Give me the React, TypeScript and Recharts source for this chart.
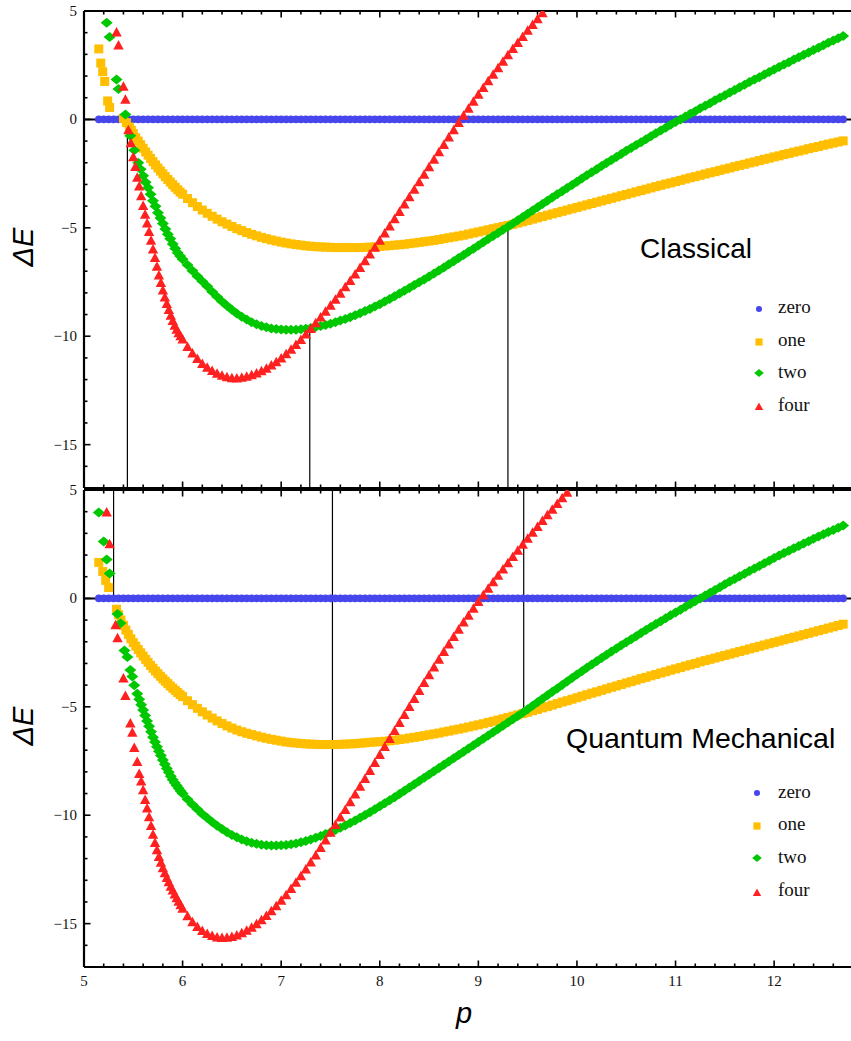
import React from 'react';
import { ScatterChart, Scatter, XAxis, YAxis, ReferenceLine } from 'recharts';

// ---------- data ----------
const SERIES_NAMES = ['zero', 'one', 'two', 'four'];
const COLORS = ['#4646ec', '#ffbf00', '#00c800', '#ff2020'];
const X_DOMAIN = [5, 12.8];
const Y_DOMAIN = [-17, 5];
const X_TICKS = [5, 5.2, 5.4, 5.6, 5.8, 6, 6.2, 6.4, 6.6, 6.8, 7, 7.2, 7.4, 7.6, 7.8, 8, 8.2, 8.4, 8.6, 8.8, 9, 9.2, 9.4, 9.6, 9.8, 10, 10.2, 10.4, 10.6, 10.8, 11, 11.2, 11.4, 11.6, 11.8, 12, 12.2, 12.4, 12.6, 12.8];
const X_LABELS = [5, 6, 7, 8, 9, 10, 11, 12];
const Y_TICKS = [-17, -16, -15, -14, -13, -12, -11, -10, -9, -8, -7, -6, -5, -4, -3, -2, -1, 0, 1, 2, 3, 4, 5];
const Y_LABELS = [-15, -10, -5, 0, 5];

const P_MAIN = [
  6.00, 6.05, 6.10, 6.15, 6.20, 6.25, 6.30, 6.35, 6.40, 6.45,
  6.50, 6.55, 6.60, 6.65, 6.70, 6.75, 6.80, 6.85, 6.90, 6.95,
  7.00, 7.05, 7.10, 7.15, 7.20, 7.25, 7.30, 7.35, 7.40, 7.45,
  7.50, 7.55, 7.60, 7.65, 7.70, 7.75, 7.80, 7.85, 7.90, 7.95,
  8.00, 8.05, 8.10, 8.15, 8.20, 8.25, 8.30, 8.35, 8.40, 8.45,
  8.50, 8.55, 8.60, 8.65, 8.70, 8.75, 8.80, 8.85, 8.90, 8.95,
  9.00, 9.05, 9.10, 9.15, 9.20, 9.25, 9.30, 9.35, 9.40, 9.45,
  9.50, 9.55, 9.60, 9.65, 9.70, 9.75, 9.80, 9.85, 9.90, 9.95,
  10.00, 10.05, 10.10, 10.15, 10.20, 10.25, 10.30, 10.35, 10.40, 10.45,
  10.50, 10.55, 10.60, 10.65, 10.70, 10.75, 10.80, 10.85, 10.90, 10.95,
  11.00, 11.05, 11.10, 11.15, 11.20, 11.25, 11.30, 11.35, 11.40, 11.45,
  11.50, 11.55, 11.60, 11.65, 11.70, 11.75, 11.80, 11.85, 11.90, 11.95,
  12.00, 12.05, 12.10, 12.15, 12.20, 12.25, 12.30, 12.35, 12.40, 12.45,
  12.50, 12.55, 12.60, 12.65, 12.70,
];
const P_ZERO_HEAD = [5.15, 5.20, 5.25, 5.30, 5.35, 5.40, 5.45, 5.50, 5.55, 5.60, 5.65, 5.70, 5.75, 5.80, 5.85, 5.90, 5.95];
const ZERO_E = [
  0, 0, 0, 0, 0, 0, 0, 0, 0, 0, 0, 0, 0, 0, 0, 0, 0, 0, 0, 0,
  0, 0, 0, 0, 0, 0, 0, 0, 0, 0, 0, 0, 0, 0, 0, 0, 0, 0, 0, 0,
  0, 0, 0, 0, 0, 0, 0, 0, 0, 0, 0, 0, 0, 0, 0, 0, 0, 0, 0, 0,
  0, 0, 0, 0, 0, 0, 0, 0, 0, 0, 0, 0, 0, 0, 0, 0, 0, 0, 0, 0,
  0, 0, 0, 0, 0, 0, 0, 0, 0, 0, 0, 0, 0, 0, 0, 0, 0, 0, 0, 0,
  0, 0, 0, 0, 0, 0, 0, 0, 0, 0, 0, 0, 0, 0, 0, 0, 0, 0, 0, 0,
  0, 0, 0, 0, 0, 0, 0, 0, 0, 0, 0, 0, 0, 0, 0, 0, 0, 0, 0, 0,
  0, 0, 0, 0, 0, 0, 0, 0, 0, 0, 0, 0,
];

// Classical panel
const TOP_ONE_HEAD_P = [5.15, 5.17, 5.19, 5.21, 5.24, 5.26, 5.40, 5.43, 5.46, 5.48, 5.50, 5.525, 5.55, 5.575, 5.60, 5.625, 5.65, 5.675, 5.70, 5.725, 5.75, 5.775, 5.80, 5.825, 5.85, 5.875, 5.90, 5.925, 5.95, 5.975];
const TOP_ONE_HEAD_E = [3.25, 2.6, 2.2, 1.75, 0.85, 0.55, 0.05, -0.15, -0.35, -0.5, -0.65, -0.85, -1.0, -1.17, -1.33, -1.5, -1.65, -1.8, -1.95, -2.1, -2.24, -2.38, -2.51, -2.64, -2.77, -2.89, -3.01, -3.13, -3.24, -3.35];
const TOP_ONE_E = [
  -3.45, -3.65, -3.84, -4.02, -4.18, -4.33, -4.47, -4.60, -4.72, -4.83,
  -4.94, -5.04, -5.13, -5.22, -5.30, -5.37, -5.44, -5.50, -5.56, -5.61,
  -5.66, -5.70, -5.74, -5.77, -5.80, -5.83, -5.85, -5.87, -5.88, -5.89,
  -5.90, -5.91, -5.91, -5.91, -5.91, -5.91, -5.91, -5.90, -5.89, -5.88,
  -5.86, -5.84, -5.82, -5.80, -5.78, -5.76, -5.73, -5.70, -5.67, -5.64,
  -5.61, -5.58, -5.54, -5.50, -5.46, -5.42, -5.38, -5.34, -5.29, -5.24,
  -5.19, -5.14, -5.09, -5.04, -4.99, -4.94, -4.89, -4.84, -4.78, -4.72,
  -4.66, -4.60, -4.54, -4.48, -4.42, -4.36, -4.30, -4.24, -4.18, -4.12,
  -4.06, -4.00, -3.94, -3.88, -3.82, -3.76, -3.70, -3.64, -3.58, -3.52,
  -3.46, -3.40, -3.34, -3.28, -3.22, -3.16, -3.10, -3.04, -2.98, -2.93,
  -2.87, -2.81, -2.75, -2.69, -2.64, -2.58, -2.52, -2.46, -2.41, -2.35,
  -2.29, -2.24, -2.18, -2.12, -2.07, -2.01, -1.96, -1.90, -1.84, -1.79,
  -1.73, -1.68, -1.62, -1.57, -1.51, -1.46, -1.41, -1.35, -1.30, -1.25,
  -1.19, -1.14, -1.09, -1.04, -0.99,
];
const TOP_TWO_HEAD_P = [5.23, 5.26, 5.33, 5.35, 5.42, 5.47, 5.51, 5.55, 5.575, 5.60, 5.625, 5.65, 5.675, 5.70, 5.725, 5.75, 5.775, 5.80, 5.825, 5.85, 5.875, 5.90, 5.925, 5.95, 5.975];
const TOP_TWO_HEAD_E = [4.46, 3.8, 1.84, 1.4, 0.23, -0.75, -1.42, -2.0, -2.3, -2.6, -2.9, -3.15, -3.45, -3.75, -4.0, -4.3, -4.55, -4.8, -5.05, -5.3, -5.5, -5.75, -5.95, -6.15, -6.3];
const TOP_TWO_E = [
  -6.45, -6.72, -6.98, -7.23, -7.47, -7.70, -7.95, -8.18, -8.40, -8.60,
  -8.78, -8.95, -9.10, -9.23, -9.35, -9.45, -9.53, -9.59, -9.64, -9.67,
  -9.69, -9.70, -9.70, -9.70, -9.68, -9.65, -9.62, -9.58, -9.53, -9.48,
  -9.42, -9.35, -9.28, -9.20, -9.12, -9.03, -8.94, -8.84, -8.74, -8.63,
  -8.52, -8.40, -8.28, -8.16, -8.03, -7.90, -7.77, -7.64, -7.51, -7.38,
  -7.25, -7.11, -6.97, -6.83, -6.68, -6.54, -6.39, -6.25, -6.10, -5.96,
  -5.81, -5.67, -5.52, -5.38, -5.24, -5.09, -4.95, -4.80, -4.65, -4.50,
  -4.35, -4.20, -4.05, -3.90, -3.75, -3.60, -3.45, -3.31, -3.16, -3.02,
  -2.87, -2.73, -2.58, -2.44, -2.30, -2.15, -2.01, -1.87, -1.73, -1.59,
  -1.45, -1.32, -1.18, -1.05, -0.91, -0.78, -0.64, -0.51, -0.38, -0.25,
  -0.12, 0.00, 0.13, 0.26, 0.38, 0.51, 0.63, 0.75, 0.88, 1.00,
  1.12, 1.24, 1.36, 1.48, 1.60, 1.72, 1.84, 1.95, 2.07, 2.19,
  2.30, 2.42, 2.53, 2.64, 2.76, 2.87, 2.98, 3.09, 3.20, 3.31,
  3.42, 3.53, 3.64, 3.74, 3.85,
];
const TOP_FOUR_HEAD_P = [5.33, 5.35, 5.40, 5.42, 5.45, 5.475, 5.50, 5.52, 5.54, 5.56, 5.58, 5.60, 5.62, 5.64, 5.66, 5.68, 5.70, 5.72, 5.74, 5.76, 5.78, 5.80, 5.82, 5.84, 5.86, 5.88, 5.90, 5.92, 5.94, 5.96, 5.98];
const TOP_FOUR_HEAD_E = [4.0, 3.4, 1.5, 0.9, -0.5, -1.1, -1.75, -2.2, -2.7, -3.1, -3.55, -4.0, -4.4, -4.8, -5.2, -5.6, -6.0, -6.4, -6.8, -7.2, -7.55, -7.9, -8.22, -8.52, -8.8, -9.06, -9.3, -9.52, -9.71, -9.87, -10.01];
const TOP_FOUR_E = [
  -10.15, -10.50, -10.80, -11.06, -11.28, -11.46, -11.61, -11.73, -11.83, -11.90,
  -11.94, -11.95, -11.92, -11.87, -11.80, -11.72, -11.62, -11.50, -11.36, -11.20,
  -11.03, -10.84, -10.63, -10.41, -10.18, -9.93, -9.67, -9.41, -9.14, -8.87,
  -8.60, -8.32, -8.04, -7.75, -7.46, -7.16, -6.86, -6.55, -6.24, -5.92,
  -5.60, -5.27, -4.94, -4.61, -4.27, -3.93, -3.59, -3.25, -2.90, -2.56,
  -2.21, -1.87, -1.52, -1.18, -0.84, -0.50, -0.17, 0.16, 0.49, 0.81,
  1.13, 1.44, 1.75, 2.06, 2.36, 2.66, 2.95, 3.24, 3.52, 3.80,
  4.08, 4.35, 4.62, 4.89,
];
const TOP_MARK_P = [5.44, 7.29, 9.3];
const TOP_MARK_E = [0, -9.64, -4.93];

// Quantum mechanical panel
const BOT_ONE_HEAD_P = [5.15, 5.19, 5.22, 5.25, 5.33, 5.35, 5.375, 5.40, 5.425, 5.45, 5.475, 5.50, 5.525, 5.55, 5.575, 5.60, 5.625, 5.65, 5.675, 5.70, 5.725, 5.75, 5.775, 5.80, 5.825, 5.85, 5.875, 5.90, 5.925, 5.95, 5.975];
const BOT_ONE_HEAD_E = [1.66, 1.24, 0.83, 0.5, -0.5, -0.75, -1.0, -1.24, -1.46, -1.66, -1.86, -2.04, -2.2, -2.36, -2.51, -2.66, -2.81, -2.95, -3.09, -3.22, -3.35, -3.47, -3.59, -3.71, -3.82, -3.93, -4.04, -4.14, -4.24, -4.34, -4.44];
const BOT_ONE_E = [
  -4.53, -4.72, -4.90, -5.07, -5.23, -5.38, -5.52, -5.65, -5.77, -5.88,
  -5.98, -6.07, -6.15, -6.22, -6.28, -6.34, -6.40, -6.45, -6.50, -6.54,
  -6.58, -6.62, -6.65, -6.67, -6.69, -6.71, -6.72, -6.73, -6.74, -6.74,
  -6.74, -6.74, -6.73, -6.72, -6.71, -6.70, -6.68, -6.66, -6.64, -6.62,
  -6.61, -6.59, -6.57, -6.54, -6.51, -6.48, -6.44, -6.41, -6.37, -6.33,
  -6.29, -6.25, -6.21, -6.16, -6.12, -6.07, -6.03, -5.98, -5.93, -5.88,
  -5.83, -5.78, -5.72, -5.67, -5.61, -5.55, -5.49, -5.43, -5.37, -5.31,
  -5.25, -5.18, -5.12, -5.05, -4.99, -4.92, -4.85, -4.78, -4.72, -4.65,
  -4.58, -4.51, -4.44, -4.37, -4.31, -4.24, -4.17, -4.10, -4.04, -3.97,
  -3.90, -3.84, -3.77, -3.70, -3.64, -3.57, -3.51, -3.44, -3.38, -3.31,
  -3.25, -3.19, -3.12, -3.06, -3.00, -2.93, -2.87, -2.81, -2.75, -2.69,
  -2.63, -2.57, -2.51, -2.45, -2.39, -2.33, -2.27, -2.21, -2.15, -2.09,
  -2.03, -1.97, -1.91, -1.85, -1.79, -1.73, -1.67, -1.61, -1.55, -1.49,
  -1.43, -1.37, -1.31, -1.25, -1.19,
];
const BOT_TWO_HEAD_P = [5.15, 5.20, 5.23, 5.26, 5.34, 5.37, 5.41, 5.44, 5.47, 5.49, 5.51, 5.54, 5.56, 5.58, 5.60, 5.62, 5.64, 5.66, 5.68, 5.70, 5.72, 5.74, 5.76, 5.78, 5.80, 5.82, 5.84, 5.86, 5.88, 5.90, 5.92, 5.94, 5.96, 5.98];
const BOT_TWO_HEAD_E = [3.96, 2.63, 1.8, 1.15, -0.72, -1.15, -2.4, -2.7, -3.3, -3.6, -4.0, -4.4, -4.65, -4.9, -5.15, -5.4, -5.65, -5.9, -6.15, -6.4, -6.62, -6.84, -7.05, -7.25, -7.45, -7.65, -7.84, -8.02, -8.2, -8.36, -8.5, -8.63, -8.76, -8.88];
const BOT_TWO_E = [
  -9.00, -9.26, -9.50, -9.73, -9.94, -10.13, -10.31, -10.48, -10.64, -10.78,
  -10.91, -11.02, -11.12, -11.20, -11.27, -11.32, -11.36, -11.39, -11.40, -11.40,
  -11.39, -11.37, -11.34, -11.30, -11.25, -11.19, -11.12, -11.04, -10.96, -10.87,
  -10.78, -10.68, -10.58, -10.47, -10.36, -10.24, -10.12, -9.99, -9.86, -9.73,
  -9.59, -9.45, -9.31, -9.17, -9.02, -8.87, -8.72, -8.57, -8.42, -8.27,
  -8.12, -7.97, -7.82, -7.67, -7.52, -7.37, -7.22, -7.07, -6.92, -6.77,
  -6.62, -6.47, -6.32, -6.17, -6.02, -5.87, -5.72, -5.57, -5.42, -5.27,
  -5.11, -4.95, -4.79, -4.63, -4.47, -4.31, -4.15, -3.99, -3.83, -3.67,
  -3.51, -3.36, -3.20, -3.05, -2.90, -2.75, -2.60, -2.45, -2.31, -2.16,
  -2.02, -1.88, -1.74, -1.60, -1.46, -1.32, -1.18, -1.05, -0.91, -0.78,
  -0.65, -0.52, -0.39, -0.26, -0.13, 0.00, 0.13, 0.26, 0.39, 0.52,
  0.65, 0.78, 0.90, 1.02, 1.14, 1.26, 1.38, 1.50, 1.62, 1.74,
  1.86, 1.98, 2.09, 2.20, 2.31, 2.42, 2.53, 2.64, 2.75, 2.86,
  2.96, 3.06, 3.16, 3.26, 3.36,
];
const BOT_FOUR_HEAD_P = [5.23, 5.26, 5.32, 5.34, 5.40, 5.42, 5.47, 5.49, 5.51, 5.54, 5.56, 5.58, 5.60, 5.62, 5.64, 5.66, 5.68, 5.70, 5.72, 5.74, 5.76, 5.78, 5.80, 5.82, 5.84, 5.86, 5.88, 5.90, 5.92, 5.94, 5.96, 5.98];
const BOT_FOUR_HEAD_E = [3.96, 2.49, -1.24, -1.84, -3.7, -4.5, -5.77, -6.2, -6.9, -7.55, -8.1, -8.45, -8.85, -9.3, -9.7, -10.1, -10.5, -10.9, -11.28, -11.62, -11.93, -12.2, -12.45, -12.68, -12.9, -13.1, -13.3, -13.48, -13.66, -13.83, -14.0, -14.16];
const BOT_FOUR_E = [
  -14.32, -14.66, -14.94, -15.16, -15.34, -15.48, -15.58, -15.64, -15.67, -15.66,
  -15.62, -15.55, -15.45, -15.33, -15.19, -15.03, -14.85, -14.65, -14.43, -14.20,
  -13.95, -13.69, -13.41, -13.12, -12.82, -12.51, -12.19, -11.86, -11.52, -11.17,
  -10.81, -10.46, -10.11, -9.76, -9.41, -9.05, -8.69, -8.33, -7.97, -7.60,
  -7.23, -6.86, -6.49, -6.12, -5.75, -5.38, -5.01, -4.64, -4.27, -3.91,
  -3.55, -3.19, -2.83, -2.48, -2.13, -1.79, -1.45, -1.12, -0.80, -0.48,
  -0.17, 0.14, 0.44, 0.74, 1.04, 1.33, 1.62, 1.91, 2.19, 2.47,
  2.75, 3.02, 3.29, 3.56, 3.83, 4.09, 4.35, 4.61, 4.87,
];
const BOT_MARK_P = [5.3, 7.52, 9.46];
const BOT_MARK_E = [0, -10.76, -5.29];

// ---------- helpers ----------
const zip = (ps: number[], es: number[]) => es.map((e, i) => ({ p: ps[i], e }));
const P_ZERO = [...P_ZERO_HEAD, ...P_MAIN];

const TOP_SERIES = [
  zip(P_ZERO, ZERO_E),
  [...zip(TOP_ONE_HEAD_P, TOP_ONE_HEAD_E), ...zip(P_MAIN, TOP_ONE_E)],
  [...zip(TOP_TWO_HEAD_P, TOP_TWO_HEAD_E), ...zip(P_MAIN, TOP_TWO_E)],
  [...zip(TOP_FOUR_HEAD_P, TOP_FOUR_HEAD_E), ...zip(P_MAIN, TOP_FOUR_E)],
];
const BOT_SERIES = [
  zip(P_ZERO, ZERO_E),
  [...zip(BOT_ONE_HEAD_P, BOT_ONE_HEAD_E), ...zip(P_MAIN, BOT_ONE_E)],
  [...zip(BOT_TWO_HEAD_P, BOT_TWO_HEAD_E), ...zip(P_MAIN, BOT_TWO_E)],
  [...zip(BOT_FOUR_HEAD_P, BOT_FOUR_HEAD_E), ...zip(P_MAIN, BOT_FOUR_E)],
];

// ---------- layout ----------
const CHART_W = 853;
const PLOT_L = 84;
const PLOT_T = 11;
const PLOT_B = 488;
const SERIF = '"Liberation Serif", "DejaVu Serif", serif';
const SANS = '"Liberation Sans", Arial, sans-serif';

// ---------- marker shapes ----------
const mark = (k: number, cx: number, cy: number, s = 1) => {
  if (k === 0) return <circle cx={cx} cy={cy} r={3.8 * s} fill={COLORS[0]} />;
  if (k === 1) return <rect x={cx - 4.5 * s} y={cy - 4.5 * s} width={9 * s} height={9 * s} fill={COLORS[1]} />;
  if (k === 2)
    return (
      <polygon
        points={`${cx - 6 * s},${cy} ${cx},${cy - 5 * s} ${cx + 6 * s},${cy} ${cx},${cy + 5 * s}`}
        fill={COLORS[2]}
      />
    );
  return (
    <polygon
      points={`${cx},${cy - 5.6 * s} ${cx + 5.2 * s},${cy + 3.9 * s} ${cx - 5.2 * s},${cy + 3.9 * s}`}
      fill={COLORS[3]}
    />
  );
};
const shapeFor = (k: number) => (props: any) => <g>{mark(k, props.cx, props.cy)}</g>;

const fmt = (v: number) => (v < 0 ? `\u2212${-v}` : `${v}`);
const isMajorX = (v: number) => Math.abs(v - Math.round(v)) < 1e-6;

const YTick = (props: any) => {
  const { y, payload } = props;
  const v = payload.value;
  const major = Y_LABELS.includes(v);
  return (
    <g>
      <line x1={PLOT_L} x2={PLOT_L + (major ? 6.5 : 3.5)} y1={y} y2={y} stroke="#000" strokeWidth={1.6} />
      {major && (
        <text x={PLOT_L - 7} y={y + 5} textAnchor="end" fontFamily={SERIF} fontSize={15} fill="#111">
          {fmt(v)}
        </text>
      )}
    </g>
  );
};

const makeXTick = (edge: number, dir: number, labels: boolean) => (props: any) => {
  const { x, payload } = props;
  const v = payload.value;
  const major = isMajorX(v);
  const len = major ? 6.5 : 3.5;
  return (
    <g>
      <line x1={x} x2={x} y1={edge} y2={edge + dir * len} stroke="#000" strokeWidth={1.6} />
      {labels && major && X_LABELS.includes(Math.round(v)) && (
        <text x={x} y={edge + 19} textAnchor="middle" fontFamily={SERIF} fontSize={15} fill="#111">
          {fmt(v)}
        </text>
      )}
    </g>
  );
};

const TopEdgeTick = makeXTick(PLOT_T, 1, false);
const BottomEdgeTickPlain = makeXTick(PLOT_B, -1, false);
const BottomEdgeTickLabels = makeXTick(PLOT_B, -1, true);

function Panel(props: {
  series: { p: number; e: number }[][];
  markP: number[];
  markE: number[];
  fromTop: boolean;
  labels: boolean;
  height: number;
  marginBottom: number;
}) {
  const { series, markP, markE, fromTop, labels, height, marginBottom } = props;
  return (
    <ScatterChart width={CHART_W} height={height} margin={{ top: PLOT_T - 1, right: 0, bottom: marginBottom, left: 0 }}>
      <XAxis
        xAxisId="t"
        orientation="top"
        type="number"
        dataKey="p"
        domain={X_DOMAIN}
        allowDataOverflow
        ticks={X_TICKS}
        interval={0}
        height={1}
        axisLine={{ stroke: '#000', strokeWidth: 2.2 }}
        tickLine={false}
        tick={TopEdgeTick}
      />
      <XAxis
        xAxisId="b"
        orientation="bottom"
        type="number"
        dataKey="p"
        domain={X_DOMAIN}
        allowDataOverflow
        ticks={X_TICKS}
        interval={0}
        height={1}
        axisLine={{ stroke: '#000', strokeWidth: 2.2 }}
        tickLine={false}
        tick={labels ? BottomEdgeTickLabels : BottomEdgeTickPlain}
      />
      <YAxis
        yAxisId="l"
        type="number"
        dataKey="e"
        domain={Y_DOMAIN}
        allowDataOverflow
        ticks={Y_TICKS}
        interval={0}
        width={PLOT_L}
        axisLine={{ stroke: '#000', strokeWidth: 2.2 }}
        tickLine={false}
        tick={YTick}
      />
      {series.map((d, k) => (
        <Scatter
          key={SERIES_NAMES[k]}
          name={SERIES_NAMES[k]}
          data={d}
          xAxisId="b"
          yAxisId="l"
          fill={COLORS[k]}
          shape={shapeFor(k)}
          isAnimationActive={false}
        />
      ))}
      <ReferenceLine xAxisId="b" yAxisId="l" y={0} stroke="#000" strokeWidth={2} />
      {markP.map((p, i) => (
        <ReferenceLine
          key={`m${i}`}
          xAxisId="b"
          yAxisId="l"
          segment={
            fromTop
              ? [{ x: p, y: Y_DOMAIN[1] }, { x: p, y: markE[i] }]
              : [{ x: p, y: markE[i] }, { x: p, y: Y_DOMAIN[0] }]
          }
          stroke="#000"
          strokeWidth={1.2}
        />
      ))}
    </ScatterChart>
  );
}

function LegendBlock({ x, textX, ys, baselines }: { x: number; textX: number; ys: number[]; baselines: number[] }) {
  return (
    <g>
      {SERIES_NAMES.map((n, k) => (
        <g key={n}>
          {mark(k, x, ys[k], 0.8)}
          <text x={textX} y={baselines[k]} fontFamily={SERIF} fontSize={19} fill="#111">
            {n}
          </text>
        </g>
      ))}
    </g>
  );
}

export default function App() {
  return (
    <div style={{ position: 'fixed', left: 0, top: 0, width: 851, height: 1041, overflow: 'hidden', background: '#fff' }}>
      <div style={{ position: 'absolute', left: 0, top: 0 }}>
        <Panel series={TOP_SERIES} markP={TOP_MARK_P} markE={TOP_MARK_E} fromTop={false} labels={false} height={489} marginBottom={0} />
      </div>
      <div style={{ position: 'absolute', left: 0, top: 479 }}>
        <Panel series={BOT_SERIES} markP={BOT_MARK_P} markE={BOT_MARK_E} fromTop={true} labels={true} height={521} marginBottom={32} />
      </div>
      <svg width={851} height={1041} style={{ position: 'absolute', left: 0, top: 0, pointerEvents: 'none' }}>
        <text transform="translate(33,247) rotate(-90)" textAnchor="middle" fontFamily={SANS} fontStyle="italic" fontSize={29} fill="#000">
          ΔE
        </text>
        <text transform="translate(33,726) rotate(-90)" textAnchor="middle" fontFamily={SANS} fontStyle="italic" fontSize={29} fill="#000">
          ΔE
        </text>
        <text x={464} y={1023} textAnchor="middle" fontFamily={SANS} fontStyle="italic" fontSize={29} fill="#000">
          p
        </text>
        <text x={640} y={258} fontFamily={SANS} fontSize={28} fill="#000">
          Classical
        </text>
        <text x={566} y={748} fontFamily={SANS} fontSize={28.5} fill="#000">
          Quantum Mechanical
        </text>
        <LegendBlock x={759} textX={778} ys={[309, 342, 373, 407]} baselines={[313, 346, 378, 411]} />
        <LegendBlock x={757} textX={778} ys={[793, 826, 858, 893]} baselines={[798, 830, 863, 896]} />
      </svg>
    </div>
  );
}
